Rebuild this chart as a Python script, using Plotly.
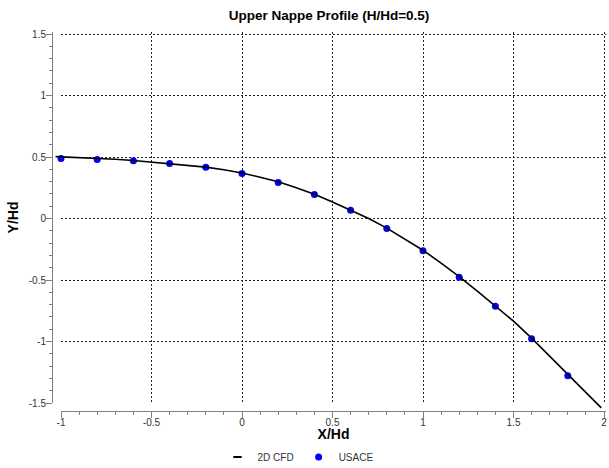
import plotly.graph_objects as go

# ---- data ----
usace_x = [-1.0, -0.8, -0.6, -0.4, -0.2, 0.0, 0.2, 0.4, 0.6, 0.8, 1.0, 1.2, 1.4, 1.6, 1.8]
usace_y = [0.488, 0.480, 0.470, 0.447, 0.416, 0.366, 0.293, 0.195, 0.068, -0.082, -0.262, -0.478, -0.713, -0.977, -1.278]

cfd_x = [-1.03, -0.9, -0.8, -0.7, -0.6, -0.5, -0.4, -0.3, -0.2, -0.1, 0.0, 0.1, 0.2, 0.3, 0.4,
         0.5, 0.6, 0.7, 0.8, 0.9, 1.0, 1.1, 1.2, 1.3, 1.4, 1.5, 1.6, 1.7, 1.8, 1.9, 1.985]
cfd_y = [0.503, 0.497, 0.490, 0.482, 0.472, 0.460, 0.447, 0.432, 0.418, 0.396, 0.370, 0.336, 0.298,
         0.250, 0.198, 0.135, 0.069, 0.000, -0.078, -0.165, -0.258, -0.362, -0.472, -0.590, -0.712,
         -0.835, -0.972, -1.120, -1.270, -1.410, -1.540]

x_tickvals = [-1, -0.5, 0, 0.5, 1, 1.5, 2]
y_tickvals = [-1.5, -1, -0.5, 0, 0.5, 1, 1.5]

title_text = "Upper Nappe Profile (H/Hd=0.5)"
x_title = "X/Hd"
y_title = "Y/Hd"
x_range = [-1, 2]
y_range = [-1.5, 1.5]

# ---- layout geometry ----
W, H = 609, 468
PAD = 2  # extra px beyond the top/right gridlines so plotly keeps them
ML, MR, MT, MB = 52, 5 - PAD, 34 - PAD, 57
pw, ph = W - ML - MR, H - MT - MB
xoff, yoff = 9, 8  # detached axis offsets (px)
xdom0 = xoff / pw
ydom0 = yoff / ph
xppu = (pw - xoff - PAD) / (x_range[1] - x_range[0])
yppu = (ph - yoff - PAD) / (y_range[1] - y_range[0])
vis_x = [x_range[0], x_range[1] + PAD / xppu]
vis_y = [y_range[0], y_range[1] + PAD / yppu]
full_x = [x_range[0] - xoff / xppu, vis_x[1]]
full_y = [y_range[0] - yoff / yppu, vis_y[1]]


def hyphen_alias(vals):
    # plotly renders negatives with U+2212; the reference uses a plain hyphen
    out = {}
    for v in vals:
        s = ("%g" % v)
        if v < 0:
            out[s.replace("-", "\u2212")] = s
    return out


FONT = "Liberation Sans Narrow, Arial Narrow, Liberation Sans, Arial, sans-serif"

fig = go.Figure()
# CFD line on a full-frame axis pair (so it is not clipped at the detached axes)
fig.add_trace(go.Scatter(x=cfd_x, y=cfd_y, mode="lines", name="2D CFD",
                         line=dict(color="black", width=1.6), showlegend=False,
                         xaxis="x2", yaxis="y2", hoverinfo="skip"))
# legend proxy for the CFD line (short dash symbol)
fig.add_trace(go.Scatter(x=[None], y=[None], mode="markers", name="2D CFD",
                         marker=dict(symbol="line-ew-open", size=6, color="black",
                                     line=dict(width=2, color="black")),
                         xaxis="x", yaxis="y"))
fig.add_trace(go.Scatter(x=usace_x, y=usace_y, mode="markers", name="USACE",
                         marker=dict(color="#0000ff", size=7), cliponaxis=False,
                         xaxis="x", yaxis="y"))

axis_common = dict(
    showline=True, linecolor="#808080", linewidth=1,
    ticks="outside", ticklen=6, tickcolor="#808080", tickwidth=1,
    showgrid=True, gridcolor="#222222", gridwidth=1, griddash="2px,2px",
    zeroline=False, automargin=True,
    tickfont=dict(family=FONT, size=10, color="#333333"),
    minor=dict(dtick=0.1, ticks="outside", ticklen=3,
               tickcolor="#808080", showgrid=False),
    tickmode="linear", dtick=0.5, fixedrange=True,
)

fig.update_layout(
    width=W, height=H,
    margin=dict(l=ML, r=MR, t=MT, b=MB, autoexpand=False),
    paper_bgcolor="white", plot_bgcolor="rgba(0,0,0,0)",
    title=dict(text="<b>" + title_text + "</b>", x=0.5, xref="paper", xanchor="center",
               y=1 - 15 / H, yanchor="middle",
               font=dict(family=FONT, size=13.5, color="black")),
    xaxis=dict(domain=[xdom0, 1], range=vis_x, anchor="free", position=0,
               tick0=x_tickvals[0], labelalias=hyphen_alias(x_tickvals),
               ticklabelstandoff=-4,
               title=dict(text="<b>" + x_title + "</b>", standoff=5,
                          font=dict(family=FONT, size=14, color="black")),
               **axis_common),
    yaxis=dict(domain=[ydom0, 1], range=vis_y, anchor="free", position=0,
               tick0=y_tickvals[0], labelalias=hyphen_alias(y_tickvals),
               ticklabelstandoff=-2,
               title=dict(text="<b>" + y_title + "</b>", standoff=5,
                          font=dict(family=FONT, size=14, color="black")),
               **axis_common),
    xaxis2=dict(domain=[0, 1], range=full_x, visible=False, anchor="y2", fixedrange=True),
    yaxis2=dict(domain=[0, 1], range=full_y, visible=False, anchor="x2", fixedrange=True),
    legend=dict(orientation="h", x=298 / W, xanchor="center", xref="container",
                y=1 - 457 / H, yanchor="middle", yref="container",
                font=dict(family=FONT, size=10, color="#333333"),
                itemwidth=30, bgcolor="rgba(0,0,0,0)"),
    showlegend=True,
)

fig.write_html("out.html")
